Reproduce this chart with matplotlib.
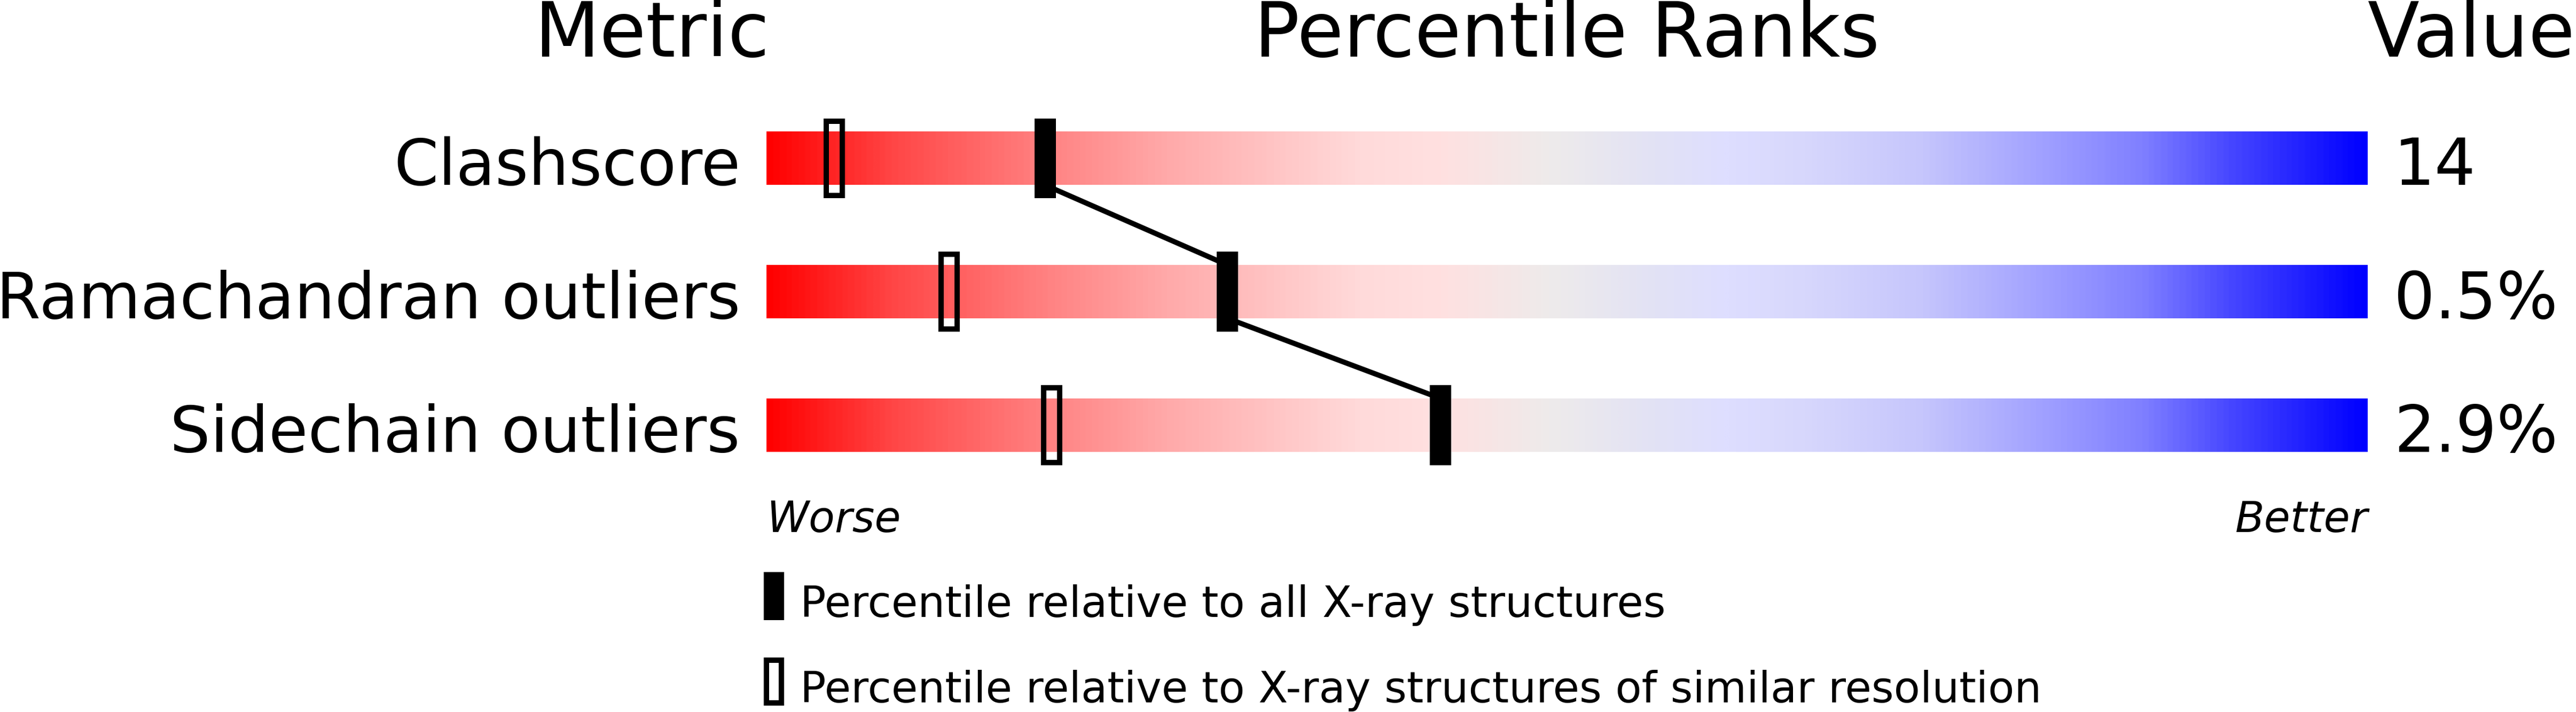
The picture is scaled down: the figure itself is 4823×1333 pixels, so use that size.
import numpy as np
import matplotlib
matplotlib.use("Agg")
import matplotlib.pyplot as plt
from matplotlib.colors import LinearSegmentedColormap
from matplotlib.patches import Rectangle

# data
metrics = ["Clashscore", "Ramachandran outliers", "Sidechain outliers"]
values = ["14", "0.5%", "2.9%"]
pct_all = [17.4, 28.8, 42.1]       # filled markers
pct_similar = [4.25, 11.4, 17.8]   # hollow markers
legend_labels = ["Percentile relative to all X-ray structures",
                 "Percentile relative to X-ray structures of similar resolution"]

# red -> pale -> blue slider gradient
stops = [(0.000, (255, 0, 0)), (0.080, (255, 72, 72)), (0.165, (255, 125, 125)),
         (0.250, (255, 170, 170)), (0.370, (255, 218, 218)), (0.420, (255, 224, 224)),
         (0.490, (238, 235, 235)), (0.555, (226, 226, 245)), (0.600, (222, 222, 255)),
         (0.650, (215, 215, 252)), (0.722, (198, 198, 252)), (0.790, (165, 165, 255)),
         (0.860, (128, 128, 255)), (0.917, (70, 70, 255)), (1.000, (0, 0, 255))]
cmap = LinearSegmentedColormap.from_list(
    "slider", [(p, tuple(c / 255 for c in rgb)) for p, rgb in stops])

W, H = 4823, 1333
fig = plt.figure(figsize=(W / 100, H / 100), dpi=100)
bar_x0, bar_x1 = 1435, 4433
ax = fig.add_axes([bar_x0 / W, 0, (bar_x1 - bar_x0) / W, 1])
row_px, row0 = 249.7, 296.5
ax.set_xlim(0, 100)
ax.set_ylim((H - row0) / row_px, -row0 / row_px)
ax.axis("off")

px = 100 / (bar_x1 - bar_x0)  # x units per pixel
bar_h = 0.4
grad = np.linspace(0, 1, 1200).reshape(1, -1)
rows = np.arange(len(metrics))
for r in rows:
    ax.imshow(grad, cmap=cmap, aspect="auto", interpolation="bilinear",
              extent=(0, 100, r + bar_h / 2, r - bar_h / 2), zorder=1)

# connecting line between the "all structures" markers
for i in range(len(rows) - 1):
    ax.plot([pct_all[i], pct_all[i + 1]],
            [rows[i] + bar_h / 2, rows[i + 1] - bar_h / 2],
            color="black", lw=7, solid_capstyle="butt", zorder=2)

mk_h = 0.6
for r, p in zip(rows, pct_all):
    ax.add_patch(Rectangle((p - 20 * px, r - mk_h / 2), 40 * px, mk_h,
                           facecolor="black", edgecolor="none", zorder=3))
for r, p in zip(rows, pct_similar):
    ax.add_patch(Rectangle((p - 15 * px, r - (mk_h - 10 / row_px) / 2), 30 * px,
                           mk_h - 10 / row_px, facecolor="none",
                           edgecolor="black", lw=7.2, zorder=3))

# headers
hy = (106 - row0) / row_px
ax.text(6 * px, hy, "Metric", ha="right", va="baseline", fontsize=102)
ax.text(50, hy, "Percentile Ranks", ha="center", va="baseline", fontsize=102)
ax.text(100, hy, "Value", ha="left", va="baseline", fontsize=102)

for r, name, val in zip(rows, metrics, values):
    ax.text(-49 * px, r + 0.2, name, ha="right", va="baseline", fontsize=86)
    ax.text(100 + 49 * px, r + 0.2, val, ha="left", va="baseline", fontsize=87)

wy = (996 - row0) / row_px
ax.text(0, wy, "Worse", ha="left", va="baseline", fontsize=57.5, style="italic")
ax.text(100, wy, "Better", ha="right", va="baseline", fontsize=57.5, style="italic")

# legend
leg_y = [(1116 - row0) / row_px, (1276 - row0) / row_px]
leg_h = 90 / row_px
ax.add_patch(Rectangle((-5 * px, leg_y[0] - leg_h / 2), 38 * px, leg_h,
                       facecolor="black", edgecolor="none", clip_on=False))
ax.add_patch(Rectangle((0, leg_y[1] - leg_h / 2 + 5 / row_px), 28 * px,
                       leg_h - 10 / row_px, facecolor="none", edgecolor="black",
                       lw=7.2, clip_on=False))
for yy, lab in zip(leg_y, legend_labels):
    ax.text(63 * px, yy + 39 / row_px, lab, ha="left", va="baseline", fontsize=58)

fig.savefig("out.png", dpi=100, facecolor="white")
